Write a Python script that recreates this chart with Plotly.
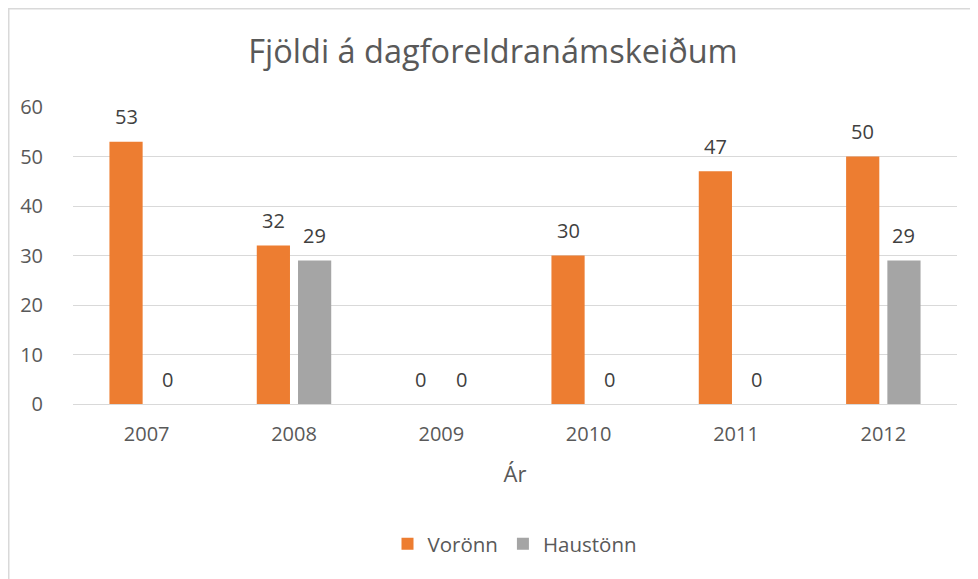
import plotly.graph_objects as go

years = ["2007", "2008", "2009", "2010", "2011", "2012"]
voronn = [53, 32, 0, 30, 47, 50]
haustonn = [0, 29, 0, 0, 0, 29]
series_names = ["Vorönn", "Haustönn"]
title_text = "Fjöldi á dagforeldranámskeiðum"
x_title = "Ár"

ORANGE = "#ED7D31"
GRAY = "#A5A5A5"
TXT = "#595959"
LBL = "#404040"
FONT = "Open Sans"

# page body has an 8px margin; figure-local coordinates = screen - 8
OFF = 8
W, H = 970, 571
ML, MR, MT, MB = 65, 21, 99, 175
PW, PH = W - ML - MR, H - MT - MB

fig = go.Figure()
fig.add_trace(go.Bar(x=years, y=voronn, name=series_names[0], marker=dict(color=ORANGE, line=dict(width=0))))
fig.add_trace(go.Bar(x=years, y=haustonn, name=series_names[1], marker=dict(color=GRAY, line=dict(width=0))))

annotations = []
for vals, shift in ((voronn, -20.6), (haustonn, 20.6)):
    for i, v in enumerate(vals):
        annotations.append(dict(x=i, y=v, xref="x", yref="y", text=str(v), showarrow=False,
                                xshift=shift, yshift=25, yanchor="middle",
                                font=dict(family=FONT, size=20, color=LBL)))

def sx(px):  # screen px -> paper x
    return (px - OFF - ML) / PW

def sy(py):  # screen px -> paper y
    return (H - MB - (py - OFF)) / PH

fig.update_layout(
    width=W, height=H,
    margin=dict(l=ML, r=MR, t=MT, b=MB),
    paper_bgcolor="white", plot_bgcolor="white",
    font=dict(family=FONT, color=TXT),
    title=dict(text=title_text, x=0.5, xanchor="center", y=1 - (52 - OFF) / H, yanchor="middle",
               font=dict(family=FONT, size=32.5, color=TXT)),
    barmode="group", bargap=0.44, bargroupgap=0.195,
    showlegend=True,
    legend=dict(orientation="h", x=0.5, xanchor="center", y=sy(544), yanchor="middle",
                font=dict(family=FONT, size=20.5, color=TXT), traceorder="normal"),
    xaxis=dict(type="category", range=[-0.5, len(years) - 0.5], showgrid=False, showline=True,
               linecolor="#D9D9D9", linewidth=1,
               ticks="outside", ticklen=12, tickcolor="rgba(0,0,0,0)",
               tickfont=dict(family=FONT, size=20, color=TXT),
               title=dict(text=x_title, font=dict(family=FONT, size=22, color=TXT), standoff=20)),
    yaxis=dict(range=[0, 60], dtick=10, showgrid=True, gridcolor="#D9D9D9", gridwidth=1,
               zeroline=False, showline=False,
               ticks="outside", ticklen=25, tickcolor="rgba(0,0,0,0)",
               tickfont=dict(family=FONT, size=20, color=TXT)),
    annotations=annotations,
    shapes=[dict(type="rect", xref="paper", yref="paper",
                 x0=sx(8.75), x1=sx(1000),
                 y0=sy(600), y1=sy(8.75),
                 line=dict(color="#D9D9D9", width=1.5), fillcolor="rgba(0,0,0,0)", layer="below")],
)

fig.write_html("out.html")
